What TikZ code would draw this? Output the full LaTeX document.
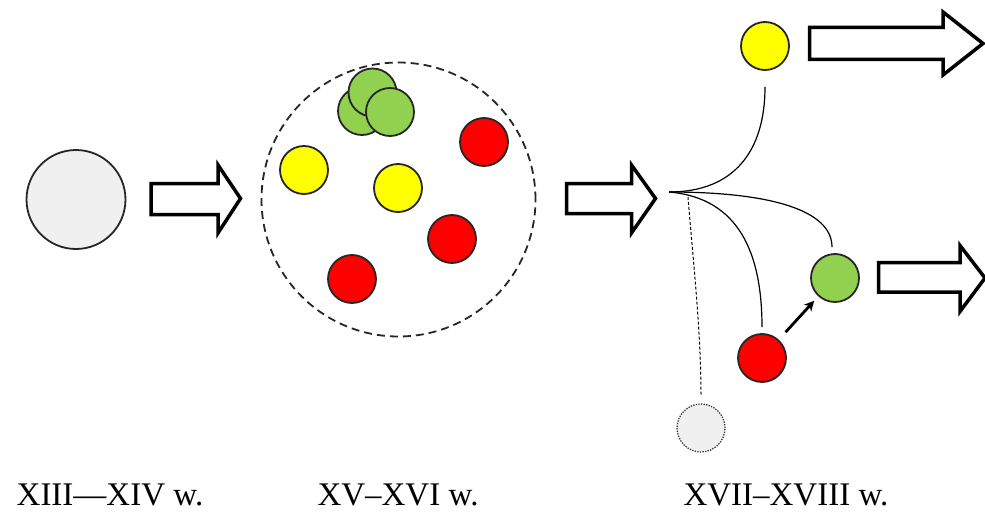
\documentclass[tikz,border=0pt]{standalone}
\usepackage{fontspec}
\setmainfont{Liberation Serif}
\usetikzlibrary{arrows.meta}
\definecolor{ballyellow}{HTML}{FFFF00}
\definecolor{ballred}{HTML}{FF0000}
\definecolor{ballgreen}{HTML}{92D050}
\definecolor{ballgray}{HTML}{F0F0F0}
\begin{document}
\begin{tikzpicture}[x=1pt,y=-1pt,
  ball/.style={circle, draw=black!85, line width=1.8pt, minimum size=48pt, inner sep=0pt},
  yel/.style={ball, fill=ballyellow},
  rd/.style={ball, fill=ballred},
  grn/.style={ball, fill=ballgreen},
  bigarrow/.style={draw=black, line width=3.5pt, fill=white, line join=miter, miter limit=10},
  branch/.style={line width=1.2pt},
  lbl/.style={anchor=base, inner sep=0pt, font=\fontsize{33}{40}\selectfont}
]
\useasboundingbox (0,0) rectangle (985,516);

% left circle
\node[circle, draw=black!85, line width=1.8pt, fill=ballgray, minimum size=99pt, inner sep=0pt] (g0) at (76,199.5) {};

% arrow 1
\draw[bigarrow] (151,183.5) -- (218,183.5) -- (218,165) -- (240.5,198.5) -- (218,233) -- (218,214.5) -- (151,214.5) -- cycle;

% dashed circle
\node[circle, draw=black!85, line width=1.8pt, dash pattern=on 8pt off 5pt, minimum size=274pt, inner sep=0pt] (pool) at (398.5,199.5) {};

% green cluster
\node[grn] (ga) at (362,111) {};
\node[grn] (gb) at (372.5,92.5) {};
\node[grn] (gc) at (390,112) {};
% others
\node[rd] (r1) at (484,142) {};
\node[yel] (y1) at (304,170) {};
\node[yel] (y2) at (398,188) {};
\node[rd] (r2) at (452,239) {};
\node[rd] (r3) at (352,279) {};

% arrow 2
\draw[bigarrow] (566.5,183.5) -- (631.5,183.5) -- (631.5,165) -- (655.5,198.5) -- (631.5,233) -- (631.5,213.5) -- (566.5,213.5) -- cycle;

% right part
\coordinate (fork) at (669,192);
\node[yel] (y3) at (765,46) {};
\node[grn] (g4) at (835,278) {};
\node[rd] (r4) at (762,358) {};
\node[circle, draw=black!80, line width=1.3pt, dash pattern=on 1.3pt off 1.3pt, fill=ballgray, minimum size=48pt, inner sep=0pt] (d4) at (701,428) {};

\draw[branch] (fork) .. controls (735,192) and (765,150) .. ([yshift=-16pt]y3.south);
\draw[branch] (fork) .. controls (770,192) and (832,210) .. ([xshift=-3pt,yshift=6pt]g4.north);
\draw[branch] (fork) .. controls (740,198) and (762,255) .. ([yshift=6pt]r4.north);
\draw[line width=1pt, dash pattern=on 3pt off 2pt] ([xshift=19pt,yshift=-5pt]fork) .. controls (693,260) and (701,330) .. ([yshift=7pt]d4.north);
\draw[line width=2.8pt, -{Stealth[length=10pt,width=10pt]}, shorten <=10pt, shorten >=6pt] (r4) -- (g4);

% top-right arrow
\draw[bigarrow] (809.5,27.5) -- (943,27.5) -- (943,12) -- (983,43.5) -- (943,75) -- (943,59.5) -- (809.5,59.5) -- cycle;
% lower-right arrow
\draw[bigarrow] (878.5,262.5) -- (960,262.5) -- (960,245.5) -- (985,278) -- (960,311.5) -- (960,292) -- (878.5,292) -- cycle;

% labels
\node[lbl] (t1) at (110,505) {XIII—XIV w.};
\node[lbl] (t2) at (398,505) {XV–XVI w.};
\node[lbl] (t3) at (786,505) {XVII–XVIII w.};
\end{tikzpicture}
\end{document}
